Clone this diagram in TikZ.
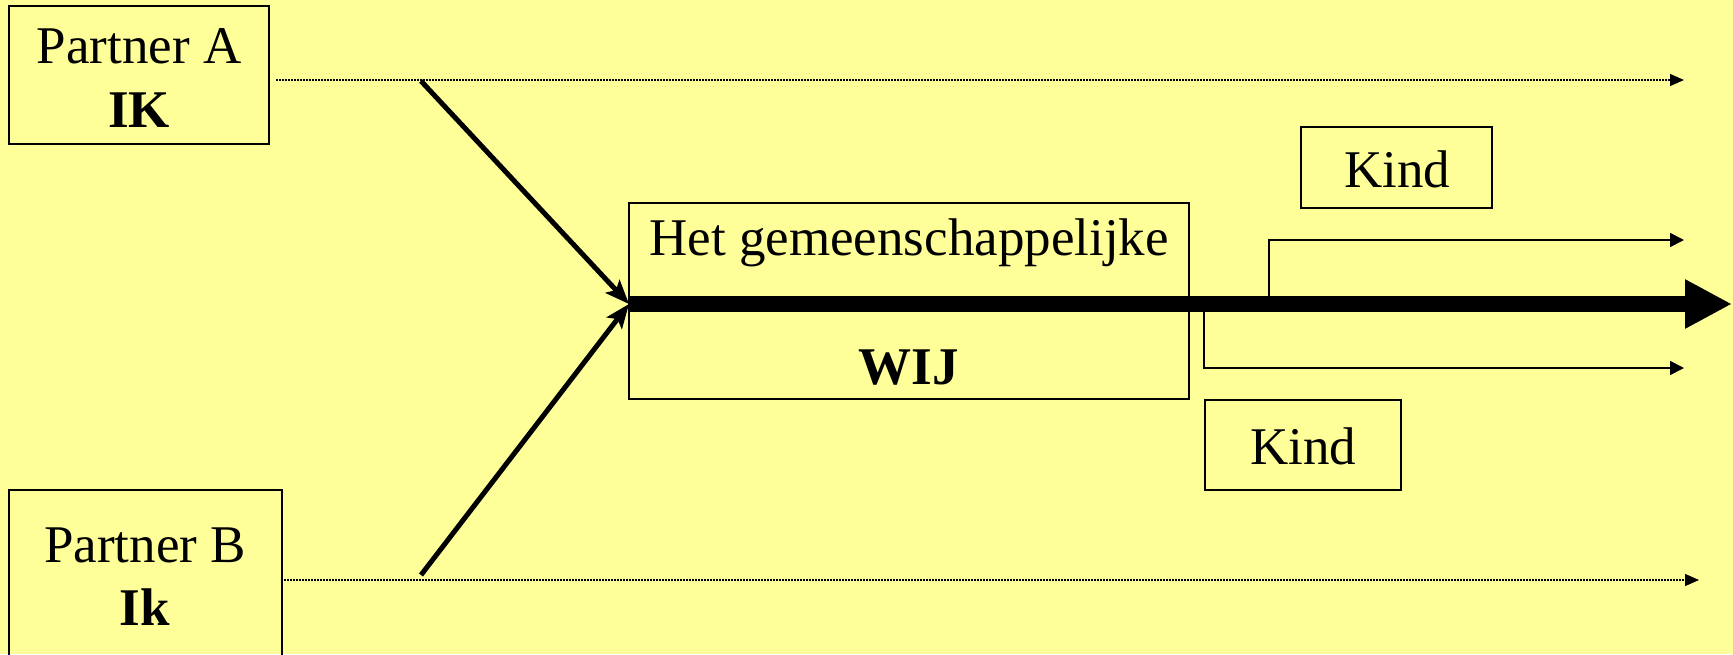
\documentclass[tikz,border=0pt]{standalone}
\usepackage{fontspec}
\setmainfont{Liberation Serif}
\usetikzlibrary{arrows.meta}
\definecolor{bgyellow}{HTML}{FFFF99}
\begin{document}
\begin{tikzpicture}[x=1pt,y=-1pt,
  boxstyle/.style={draw=black,line width=1.7pt,inner sep=0pt,outer sep=0pt},
  txt/.style={inner sep=0pt,anchor=base,font=\fontsize{53pt}{64pt}\selectfont},
  dotline/.style={line width=1.3pt,dash pattern=on 1.5pt off 1.5pt,-{Triangle[length=14pt,width=12pt]}},
  diag/.style={line width=5pt,-{Stealth[length=24pt,width=19pt,inset=5pt]}},
  branch/.style={line width=1.6pt,-{Triangle[length=14pt,width=14pt]}},
  thick arrow/.style={line width=16pt,-{Triangle[length=47pt,width=46pt]}}]
\fill[bgyellow] (0,0) rectangle (1733,654);
\useasboundingbox (0,0) rectangle (1733,654);
% boxes
\node[boxstyle,minimum width=260pt,minimum height=138pt] (pabox) at (139,75) {};
\node[boxstyle,minimum width=273pt,minimum height=174pt] (pbbox) at (145.5,577) {};
\node[boxstyle,minimum width=560pt,minimum height=196pt] (wijbox) at (909,301) {};
\node[boxstyle,minimum width=191pt,minimum height=81pt] (kind1box) at (1396.5,167.5) {};
\node[boxstyle,minimum width=196pt,minimum height=90pt] (kind2box) at (1303,445) {};
% named anchors
\coordinate (aS) at (276,80);
\coordinate (aE) at (1684,80);
\coordinate (bS) at (284,580);
\coordinate (bE) at (1699,580);
\coordinate (aD) at (421,81);
\coordinate (bD) at (421,575);
\coordinate (wijW) at (wijbox.west |- 0,304);
\coordinate (wijE) at (1732,304);
\coordinate (k1) at (1269,304);
\coordinate (k1E) at (1684,240);
\coordinate (k2) at (1204,304);
\coordinate (k2E) at (1684,368);
% texts
\node[txt] (pa1) at (139,63) {Partner A};
\node[txt] (pa2) at (139,127) {\textbf{IK}};
\node[txt] (pb1) at (145,562) {Partner B};
\node[txt] (pb2) at (145,625) {\textbf{Ik}};
\node[txt] (wij1) at (909,255) {Het gemeenschappelijke};
\node[txt] (wij2) at (909,384) {\textbf{WIJ}};
\node[txt] (kind1) at (1397,187) {Kind};
\node[txt] (kind2) at (1303,464) {Kind};
% connectors
\draw[dotline] (aS) -- (aE);
\draw[dotline] (bS) -- (bE);
\draw[thick arrow] (wijW) -- (wijE);
\draw[diag] (aD) -- (wijW);
\draw[diag] (bD) -- (wijW);
\draw[branch] (k1) |- (k1E);
\draw[branch] (k2) |- (k2E);
\end{tikzpicture}
\end{document}
